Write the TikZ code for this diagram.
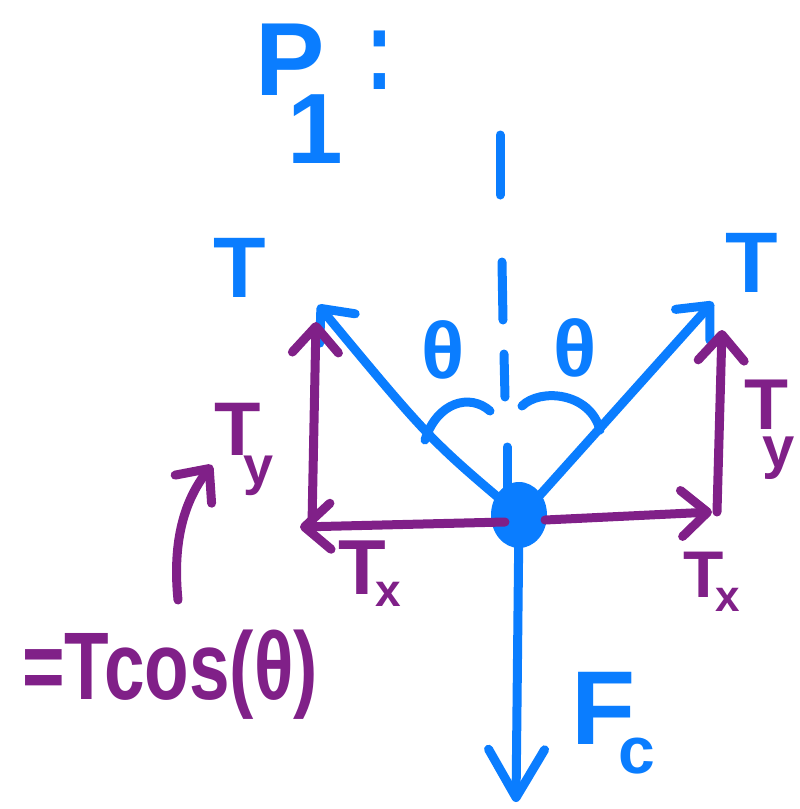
\documentclass[tikz,border=0pt]{standalone}
\usepackage{fontspec}
\setmainfont{Liberation Sans}
\usetikzlibrary{arrows.meta,shapes.geometric}
\definecolor{pblue}{RGB}{10,125,255}
\definecolor{ppurp}{RGB}{128,32,136}
\newcommand{\fs}[1]{\fontsize{#1}{#1}\selectfont}
\newcommand{\subl}[4]{\kern#1pt\raisebox{#2pt}{\fs{#3}#4}}
\begin{document}
\begin{tikzpicture}[x=1pt,y=-1pt,line cap=round,line join=round,
  bl/.style={draw=pblue,line width=9pt},
  pu/.style={draw=ppurp,line width=9pt},
  tip/.style={-{Straight Barb[length=26pt,width=46pt,round]}},
  bigtip/.style={-{Straight Barb[length=48pt,width=56pt,round]}},
  lbl/.style={inner sep=0pt,font=\bfseries\fs{#1}},
  blbl/.style={lbl=#1,text=pblue},
  plbl/.style={lbl=#1,text=ppurp},
  bw/.style={anchor=base west}]
\useasboundingbox (0,0) rectangle (800,809);
% centre blob
\node[ellipse,fill=pblue,minimum width=56pt,minimum height=66pt,inner sep=0pt] (O) at (519,515) {};
% coordinates
\coordinate (tL) at (318,305);
\coordinate (tR) at (713,302);
\coordinate (tR0) at (540,495);
\coordinate (fD) at (516,802);
\coordinate (hL0) at (505,522);
\coordinate (hL) at (300,527);
\coordinate (hR0) at (545,520);
\coordinate (hR) at (712,512);
\coordinate (vL0) at (312,524);
\coordinate (vL) at (316,322);
\coordinate (vR0) at (717,512);
\coordinate (vR) at (722,330);
\coordinate (c0) at (178,600);
\coordinate (c1) at (212,465);
% dashed vertical reference line
\draw[bl] (500,135) -- (500,195);
\draw[bl] (502,262) -- (503,320);
\draw[bl] (504,354) -- (505,397);
\draw[bl] (507,447) -- (507,490);
% angle arcs
\coordinate (aL0) at (425,440);
\coordinate (aL1) at (490,411);
\coordinate (aR0) at (522,406);
\coordinate (aR1) at (600,430);
\draw[bl] (aL0) .. controls (437,402) and (470,393) .. (aL1);
\draw[bl] (aR0) .. controls (540,388) and (590,392) .. (aR1);
% blue force arrows
\draw[bl,tip] (O.center) .. controls (430,440) .. (tL);
\draw[bl,tip] (tR0) -- (tR);
\draw[bl,bigtip] (O.center) -- (fD);
% purple components
\draw[pu,tip] (hL0) -- (hL);
\draw[pu,tip] (vL0) -- (vL);
\draw[pu,tip] (hR0) -- (hR);
\draw[pu,tip] (vR0) -- (vR);
\draw[pu,tip] (c0) .. controls (172,540) and (185,500) .. (c1);
% blue labels
\node[blbl=104,bw] (P) at (255,95) {P\subl{-37}{-68}{100}{1}};
\node[lbl=80,text=pblue] (col) at (380,60) {\scalebox{1}[1.45]{:}};
\node[blbl=86] (TL) at (240,268) {T};
\node[blbl=86] (TR) at (752,263) {T};
\node[blbl=80] (thL) at (443,350) {θ};
\node[blbl=80] (thR) at (575,348) {θ};
\node[blbl=105,bw] (F) at (571,744) {F\subl{-17}{-29}{66}{c}};
% purple labels
\node[plbl=76,bw] (TyL) at (214,455) {T\subl{-17}{-29}{54}{y}};
\node[plbl=78,bw] (TxL) at (338,594) {T\subl{-10}{-12}{46}{x}};
\node[plbl=72,bw] (TyR) at (744,429) {T\subl{-26}{-38}{58}{y}};
\node[plbl=66,bw] (TxR) at (683,597) {T\subl{-8}{-14}{44}{x}};
\node[plbl=96] (eq) at (170,675) {\scalebox{0.76}[1]{=Tcos(θ)}};
\end{tikzpicture}
\end{document}
